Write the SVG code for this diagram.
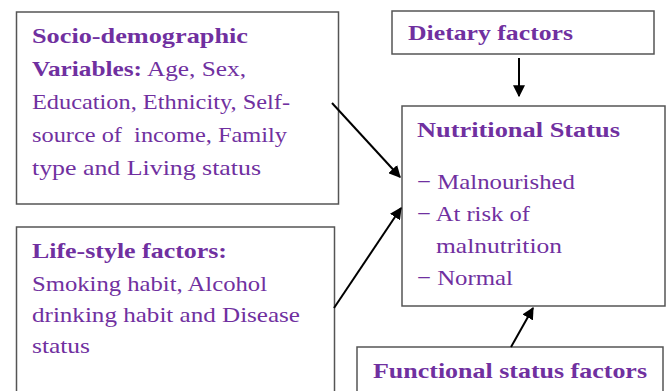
<svg xmlns="http://www.w3.org/2000/svg" width="670" height="391" viewBox="0 0 670 391">
<defs>
<style>
.box{fill:#fff;stroke:#555;stroke-width:1.5}
.t{font-family:"Liberation Serif","Times New Roman",serif;font-size:22px;fill:#7030A0}
.b{font-weight:bold}
.c{stroke:#000;stroke-width:2;fill:none;marker-end:url(#ah)}
</style>
<marker id="ah" viewBox="0 0 10 10" refX="9" refY="5" markerWidth="6" markerHeight="6" markerUnits="strokeWidth" orient="auto">
<path d="M0,0 L10,5 L0,10 z" fill="#000"/>
</marker>
</defs>
<rect width="670" height="391" fill="#fff"/>
<g id="socio">
<rect class="box" x="16.5" y="12" width="322" height="192"/>
<text class="t b" x="32" y="43" textLength="216" lengthAdjust="spacingAndGlyphs">Socio-demographic</text>
<text class="t" x="32" y="76" textLength="214" lengthAdjust="spacingAndGlyphs"><tspan class="b">Variables:</tspan> Age, Sex,</text>
<text class="t" x="32" y="109" textLength="258" lengthAdjust="spacingAndGlyphs">Education, Ethnicity, Self-</text>
<text class="t" x="32" y="142" textLength="255" lengthAdjust="spacingAndGlyphs" xml:space="preserve">source of  income, Family</text>
<text class="t" x="32" y="175" textLength="229" lengthAdjust="spacingAndGlyphs">type and Living status</text>
</g>
<g id="lifestyle">
<rect class="box" x="16.5" y="227" width="318" height="180"/>
<text class="t b" x="32" y="258" textLength="195" lengthAdjust="spacingAndGlyphs">Life-style factors:</text>
<text class="t" x="32" y="291" textLength="235" lengthAdjust="spacingAndGlyphs">Smoking habit, Alcohol</text>
<text class="t" x="32" y="322" textLength="268" lengthAdjust="spacingAndGlyphs">drinking habit and Disease</text>
<text class="t" x="32" y="353" textLength="58" lengthAdjust="spacingAndGlyphs">status</text>
</g>
<g id="dietary">
<rect class="box" x="392" y="11" width="262" height="43"/>
<text class="t b" x="408" y="40" textLength="165" lengthAdjust="spacingAndGlyphs">Dietary factors</text>
</g>
<g id="nutritional">
<rect class="box" x="402" y="106" width="263" height="200"/>
<text class="t b" x="417" y="137" textLength="203" lengthAdjust="spacingAndGlyphs">Nutritional Status</text>
<text class="t" x="417" y="189" textLength="158" lengthAdjust="spacingAndGlyphs">− Malnourished</text>
<text class="t" x="417" y="221" textLength="113" lengthAdjust="spacingAndGlyphs">− At risk of</text>
<text class="t" x="436" y="253" textLength="126" lengthAdjust="spacingAndGlyphs">malnutrition</text>
<text class="t" x="417" y="285" textLength="96" lengthAdjust="spacingAndGlyphs">− Normal</text>
</g>
<g id="functional">
<rect class="box" x="357" y="347" width="306" height="60"/>
<text class="t b" x="373" y="378" textLength="274" lengthAdjust="spacingAndGlyphs">Functional status factors</text>
</g>
<g id="connectors">
<line class="c" x1="332" y1="103" x2="400" y2="177"/>
<line class="c" x1="334" y1="308" x2="401" y2="208"/>
<line class="c" x1="519" y1="58" x2="519" y2="96"/>
<line class="c" x1="511" y1="347" x2="533" y2="308"/>
</g>
</svg>
